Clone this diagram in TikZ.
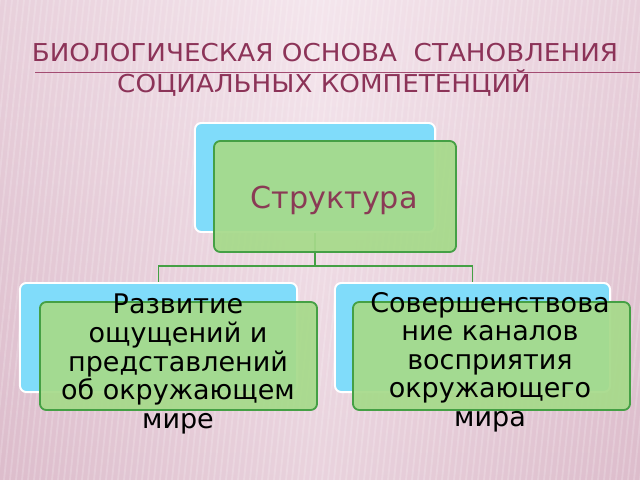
\documentclass[tikz,border=0pt]{standalone}
\usepackage{fontspec}
\setmainfont{DejaVu Sans}
\definecolor{bgmid}{HTML}{F4E5EC}
\definecolor{bgedge}{HTML}{DDBDCC}
\definecolor{bgtop}{HTML}{F6E8EF}
\definecolor{titlecol}{HTML}{8C3358}
\definecolor{rulecol}{HTML}{A34C72}
\definecolor{bluefill}{HTML}{80DCFA}
\definecolor{greenfill}{HTML}{A6DA8A}
\definecolor{greenline}{HTML}{45A045}
\definecolor{structcol}{HTML}{8A3A55}
\begin{document}
\begin{tikzpicture}[x=0.025cm,y=-0.025cm,
  backbox/.style={draw=white, line width=1.4pt, fill=bluefill, rounded corners=4.5pt, inner sep=0pt},
  frontbox/.style={draw=greenline, line width=1.3pt, fill=greenfill, fill opacity=0.93, text opacity=1, rounded corners=4.5pt, inner sep=0pt},
  link/.style={draw=greenline, line width=1.3pt},
  leaftext/.style={font=\fontsize{19.2}{20.3}\selectfont, align=center, inner sep=0pt, anchor=north, text=black},
  titletext/.style={font=\fontsize{17.5}{20}\selectfont, text=titlecol, inner sep=0pt, anchor=base},
]
% background
\useasboundingbox (0,0) rectangle (640,480);
\begin{scope}
\clip (0,0) rectangle (640,480);
\shade[left color=bgedge, right color=bgedge, middle color=bgmid] (0,0) rectangle (640,480);
\shade[top color=bgtop, bottom color=bgedge, opacity=0.45] (0,0) rectangle (640,480);
\foreach \i in {0,6,...,700} \draw[white, opacity=0.18, line width=1.3pt] (\i,0) -- (\i-50,480);
\end{scope}

% title
\node[titletext] (t1) at (325,62) {\scalebox{1.065}[1]{БИОЛОГИЧЕСКАЯ ОСНОВА \ СТАНОВЛЕНИЯ}};
\node[titletext] (t2) at (324,93) {\scalebox{1.065}[1]{СОЦИАЛЬНЫХ КОМПЕТЕНЦИЙ}};
\coordinate (rl) at (35,72.5);
\coordinate (rr) at (640,72.5);
\draw[rulecol, line width=1.2pt] (rl) -- (rr);

% back boxes
\node[backbox, minimum width=6cm, minimum height=2.725cm] (topblue) at (315,177.5) {};
\node[backbox, minimum width=6.925cm, minimum height=2.725cm] (leftblue) at (158.5,337.5) {};
\node[backbox, minimum width=6.875cm, minimum height=2.725cm] (rightblue) at (472.5,337.5) {};

% connectors
\coordinate (hub) at (315,266);
\draw[link] (topblue.south) -- (hub) -| (leftblue.north);
\draw[link] (hub) -| (rightblue.north);

% front boxes
\node[frontbox, minimum width=6.05cm, minimum height=2.775cm] (topgreen) at (335,196.5) {};
\node[frontbox, minimum width=6.925cm, minimum height=2.7cm] (leftgreen) at (178.5,356) {};
\node[frontbox, minimum width=6.925cm, minimum height=2.7cm] (rightgreen) at (491.5,356) {};

% texts
\node[font=\fontsize{21.5}{24}\selectfont, text=structcol, inner sep=0pt, anchor=base] (struct) at (334,208) {Структура};
\node[leaftext] (lefttext) at (178,294) {Развитие\\ощущений и\\представлений\\об окружающем\\мире};
\node[leaftext] (righttext) at (490,292) {Совершенствова\\ние каналов\\восприятия\\окружающего\\мира};
\end{tikzpicture}
\end{document}
